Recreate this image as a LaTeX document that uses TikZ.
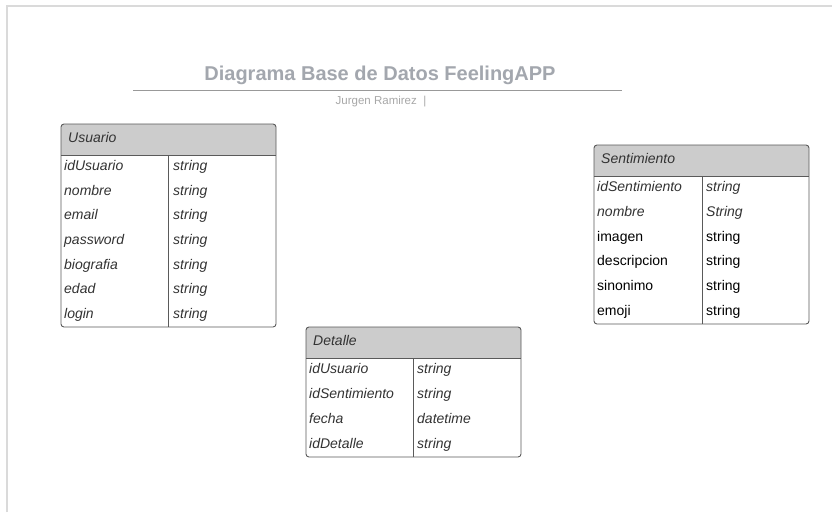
\documentclass[tikz,border=0pt]{standalone}
\usepackage{fontspec}
\setmainfont{Liberation Sans}
\definecolor{titlegray}{HTML}{A3A7AE}
\definecolor{subgray}{HTML}{A8A8A8}
\definecolor{framegray}{HTML}{DADADA}
\definecolor{hdrfill}{HTML}{CCCCCC}
\definecolor{edge}{HTML}{5A5A5A}
\definecolor{txt}{HTML}{333333}
\tikzset{
  tbl/.style={draw=edge, line width=0.9pt, rounded corners=3pt},
  sep/.style={draw=edge, line width=0.8pt},
  cell/.style={anchor=west, inner sep=0pt, text height=10pt, text depth=3pt},
  hdr/.style={cell, font=\fontsize{14}{16}\selectfont\itshape, text=txt},
  fld/.style={cell, font=\fontsize{14}{16}\selectfont\itshape, text=txt},
  fldn/.style={cell, font=\fontsize{14}{16}\selectfont, text=black},
}
\begin{document}
\begin{tikzpicture}[x=1pt,y=-1pt]
\useasboundingbox (0,0) rectangle (832,512);
\fill[white] (0,0) rectangle (832,512);
% frame
\draw[framegray, line width=1.6pt] (7,512) -- (7,6) -- (832,6);
% title
\node[font=\fontsize{20}{22}\selectfont\bfseries, text=titlegray, inner sep=0pt] (title) at (380,75) {Diagrama Base de Datos FeelingAPP};
\coordinate (tl) at (133,90);
\coordinate (tr) at (622,90);
\draw[gray!80, line width=0.9pt] (tl) -- (tr);
\node[font=\fontsize{11.5}{13}\selectfont, text=subgray, inner sep=0pt] (author) at (381,102) {Jurgen Ramirez\ \ |};

% ---------- Usuario
\fill[hdrfill] (61,155) [rounded corners=3pt] -- (61,124) -- (276,124) [sharp corners] -- (276,155) -- cycle;
\draw[tbl] (61,124) rectangle (276,327);
\draw[sep] (61,155) -- (276,155);
\draw[sep] (168,155) -- (168,327);
\node[hdr] (usuario) at (68,139) {Usuario};
\foreach \n/\t [count=\i] in {idUsuario/string,nombre/string,email/string,password/string,biografia/string,edad/string,login/string}{
  \node[fld] (u\i a) at (64,{155+24.57*(\i-0.5)}) {\n};
  \node[fld] (u\i b) at (173,{155+24.57*(\i-0.5)}) {\t};
}

% ---------- Sentimiento
\fill[hdrfill] (594,176) [rounded corners=3pt] -- (594,145) -- (809,145) [sharp corners] -- (809,176) -- cycle;
\draw[tbl] (594,145) rectangle (809,324);
\draw[sep] (594,176) -- (809,176);
\draw[sep] (702,176) -- (702,324);
\node[hdr] (sentimiento) at (601,160) {Sentimiento};
\foreach \n/\t [count=\i] in {idSentimiento/string,nombre/String}{
  \node[fld] (s\i a) at (597,{176+24.67*(\i-0.5)}) {\n};
  \node[fld] (s\i b) at (706,{176+24.67*(\i-0.5)}) {\t};
}
\foreach \n/\t [count=\j] in {imagen/string,descripcion/string,sinonimo/string,emoji/string}{
  \pgfmathsetmacro\i{\j+2}
  \node[fldn] (s\j c) at (597,{176+24.67*(\i-0.5)}) {\n};
  \node[fldn] (s\j d) at (706,{176+24.67*(\i-0.5)}) {\t};
}

% ---------- Detalle
\fill[hdrfill] (306,358) [rounded corners=3pt] -- (306,327) -- (521,327) [sharp corners] -- (521,358) -- cycle;
\draw[tbl] (306,327) rectangle (521,457);
\draw[sep] (306,358) -- (521,358);
\draw[sep] (413,358) -- (413,457);
\node[hdr] (detalle) at (313,342) {Detalle};
\foreach \n/\t [count=\i] in {idUsuario/string,idSentimiento/string,fecha/datetime,idDetalle/string}{
  \node[fld] (d\i a) at (309,{358+24.75*(\i-0.5)}) {\n};
  \node[fld] (d\i b) at (417,{358+24.75*(\i-0.5)}) {\t};
}
\end{tikzpicture}
\end{document}
